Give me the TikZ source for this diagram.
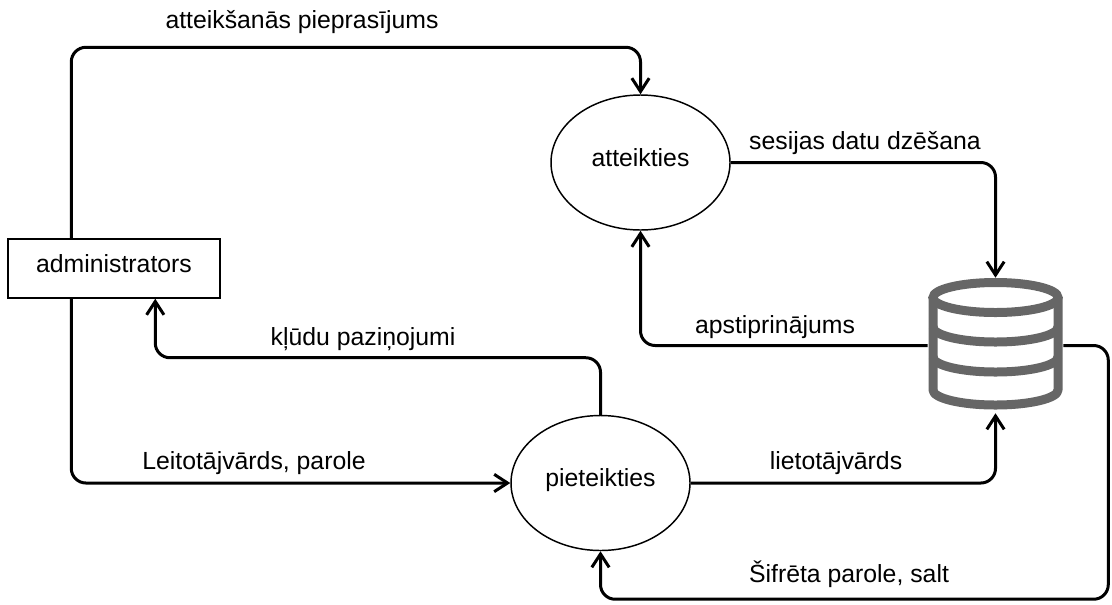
\documentclass[tikz,border=0pt]{standalone}
\usepackage{fontspec}
\setmainfont{Liberation Sans}
\usetikzlibrary{arrows.meta,shapes.geometric,calc}
\definecolor{dbgray}{HTML}{666666}
\tikzset{
  proc/.style={ellipse,draw=black,line width=1.1pt,fill=white,inner sep=0pt,
    minimum width=134.25pt,minimum height=101.25pt,font=\fontsize{18.6}{20}\selectfont,
    text height=0.7em,text depth=0.14em},
  ext/.style={rectangle,draw=black,line width=1.1pt,fill=white,inner sep=0pt,
    minimum width=159pt,minimum height=44.25pt,font=\fontsize{18.6}{20}\selectfont,
    text height=0.7em,text depth=0.14em},
  store/.style={rectangle,draw=none,inner sep=0pt,minimum width=101.25pt,minimum height=101.25pt},
  lbl/.style={anchor=base,inner sep=0pt,font=\fontsize{18.6}{20}\selectfont},
  flow/.style={line width=2.25pt,rounded corners=11pt,
    -{Straight Barb[length=10pt,width=13pt,line width=2.25pt]}},
  dbline/.style={draw=dbgray,line width=6.75pt}
}
\begin{document}
\begin{tikzpicture}[x=0.75pt,y=-0.75pt]
\useasboundingbox (0,0) rectangle (1112,604);
% nodes
\node[ext] (admin) at (114,268.5) {administrators};
\node[proc] (att) at (640.5,162.5) {atteikties};
\node[proc] (piet) at (600.5,483) {pieteikties};
\node[store] (db) at (995.5,345.5) {};
% database icon
\fill[white] (933,297.5) -- (933,390) arc[start angle=180,end angle=360,x radius=46.875pt,y radius=11.25pt] -- (1058,297.5) -- cycle;
\draw[dbline] (995.5,297.5) ellipse [x radius=46.875pt,y radius=11.25pt];
\draw[dbline] (933,327) arc[start angle=180,end angle=360,x radius=46.875pt,y radius=11.25pt];
\draw[dbline] (933,357) arc[start angle=180,end angle=360,x radius=46.875pt,y radius=11.25pt];
\draw[dbline,line join=round] (933,297.5) -- (933,390) arc[start angle=180,end angle=360,x radius=46.875pt,y radius=11.25pt] -- (1058,297.5);
% connectors
\draw[flow] ($(admin.north west)+(64,0)$) |- ($(att.north)+(0,-47)$) -- (att.north);
\draw[flow] (att.east) -| (db.north);
\draw[flow] (db.west) -| (att.south);
\draw[flow] (piet.north) |- ($(admin.south west)+(148,59)$) -- ($(admin.south west)+(148,0)$);
\draw[flow] ($(admin.south west)+(64,0)$) |- (piet.west);
\draw[flow] (piet.east) -| (db.south);
\draw[flow] (db.east) -- ++(45,0) |- ($(piet.south)+(0,48)$) -- (piet.south);
% labels
\node[lbl] (l1) at (302,28) {atteikšanās pieprasījums};
\node[lbl] (l2) at (865,149) {sesijas datu dzēšana};
\node[lbl] (l3) at (775,333) {apstiprinājums};
\node[lbl] (l4) at (363,345) {kļūdu paziņojumi};
\node[lbl] (l5) at (254,469) {Leitotājvārds, parole};
\node[lbl] (l6) at (836,469) {lietotājvārds};
\node[lbl] (l7) at (849,582) {Šifrēta parole, salt};
\end{tikzpicture}
\end{document}
